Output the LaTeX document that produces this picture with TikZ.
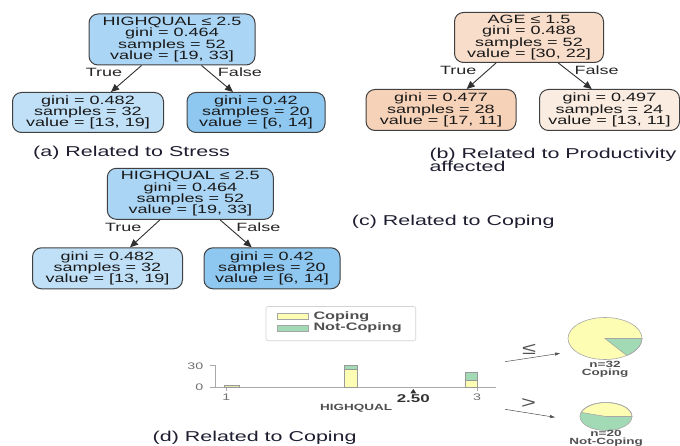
\documentclass[tikz,border=0pt]{standalone}
\usepackage{fontspec}
\setmainfont{Liberation Sans}
\newfontfamily\wf[FakeStretch=1.5]{Liberation Sans}
\usetikzlibrary{arrows.meta}
\definecolor{bluea}{HTML}{ABD5F4}
\definecolor{blueb}{HTML}{C0E0F7}
\definecolor{bluec}{HTML}{8EC7F0}
\definecolor{orga}{HTML}{F8DDCA}
\definecolor{orgb}{HTML}{F6D2B9}
\definecolor{orgc}{HTML}{FBECE1}
\definecolor{boxline}{HTML}{404040}
\definecolor{arrowc}{HTML}{303030}
\definecolor{captcol}{HTML}{1E1E30}
\definecolor{ycol}{HTML}{FDFDB3}
\definecolor{gcol}{HTML}{A1DAB4}
\definecolor{axc}{HTML}{A8A8A8}
\definecolor{tickc}{HTML}{707070}
\definecolor{chartc}{HTML}{505050}
\begin{document}
\begin{tikzpicture}[x=1pt,y=-1pt,
  tbox/.style={draw=boxline, line width=1pt, rounded corners=9pt, inner sep=0pt,
    align=center, font=\wf\fontsize{12}{11.3}\selectfont, text=black!90},
  arr/.style={-{Triangle[length=8pt,width=7pt]}, line width=0.9pt, draw=arrowc},
  edgelab/.style={font=\wf\fontsize{12}{12}\selectfont, text=black!85, inner sep=0pt},
  captxt/.style={font=\wf\fontsize{14.3}{13.4}\selectfont, text=captcol, anchor=west, inner sep=0pt, align=left},
  legtxt/.style={font=\wf\bfseries\fontsize{10.8}{11}\selectfont, text=chartc, anchor=west, inner sep=0pt},
  ticktxt/.style={font=\wf\fontsize{9.5}{10}\selectfont, text=tickc, inner sep=0pt},
  pietxt/.style={font=\wf\bfseries\fontsize{9}{8.2}\selectfont, text=chartc, inner sep=0pt, align=center},
  pieline/.style={draw=axc, line width=0.6pt},
  piearr/.style={-{Triangle[length=5pt,width=3pt]}, draw=chartc, line width=0.5pt},
  bar/.style={draw=gray!80, line width=0.5pt}
]
\useasboundingbox (0,0) rectangle (680,446);

% ---------- (a) ----------
\node[tbox, fill=bluea, minimum width=166pt, minimum height=51pt] (a0) at (172,39.5)
  {HIGHQUAL ≤ 2.5\\gini = 0.464\\samples = 52\\value = [19, 33]};
\node[tbox, fill=blueb, minimum width=151pt, minimum height=40pt] (a1) at (88,112.5)
  {gini = 0.482\\samples = 32\\value = [13, 19]};
\node[tbox, fill=bluec, minimum width=138pt, minimum height=40pt] (a2) at (256,112.5)
  {gini = 0.42\\samples = 20\\value = [6, 14]};
\draw[arr] ([xshift=-30.5pt]a0.south) -- ([xshift=23pt]a1.north);
\draw[arr] ([xshift=29.5pt]a0.south) -- ([xshift=-23pt]a2.north);
\node[edgelab] (a0t) at (104,72.5) {True};
\node[edgelab] (a0f) at (240,72.5) {False};
\node[captxt] (capa) at (33,153.3) {(a) Related to Stress};

% ---------- (b) ----------
\node[tbox, fill=orga, minimum width=149pt, minimum height=50pt] (b0) at (529,37.5)
  {AGE ≤ 1.5\\gini = 0.488\\samples = 52\\value = [30, 22]};
\node[tbox, fill=orgb, minimum width=150pt, minimum height=41pt] (b1) at (441,110)
  {gini = 0.477\\samples = 28\\value = [17, 11]};
\node[tbox, fill=orgc, minimum width=140pt, minimum height=41pt] (b2) at (609.5,110)
  {gini = 0.497\\samples = 24\\value = [13, 11]};
\draw[arr] ([xshift=-33pt]b0.south) -- ([xshift=25.7pt]b1.north);
\draw[arr] ([xshift=29.3pt]b0.south) -- ([xshift=-17.8pt]b2.north);
\node[edgelab] (b0t) at (458.3,70) {True};
\node[edgelab] (b0f) at (596.7,70) {False};
\node[captxt] (capb) at (429.3,160) {(b) Related to Productivity\\affected};

% ---------- (c) ----------
\node[tbox, fill=bluea, minimum width=166pt, minimum height=51pt] (c0) at (190.3,193.8)
  {HIGHQUAL ≤ 2.5\\gini = 0.464\\samples = 52\\value = [19, 33]};
\node[tbox, fill=blueb, minimum width=150pt, minimum height=41pt] (c1) at (107.5,268.3)
  {gini = 0.482\\samples = 32\\value = [13, 19]};
\node[tbox, fill=bluec, minimum width=136pt, minimum height=41pt] (c2) at (272,268.3)
  {gini = 0.42\\samples = 20\\value = [6, 14]};
\draw[arr] ([xshift=-30.3pt]c0.south) -- ([xshift=22.5pt]c1.north);
\draw[arr] ([xshift=29.7pt]c0.south) -- ([xshift=-20.3pt]c2.north);
\node[edgelab] (c0t) at (123.3,227.7) {True};
\node[edgelab] (c0f) at (258.3,227.7) {False};
\node[captxt] (capcc) at (351.7,222.3) {(c) Related to Coping};

% ---------- (d) ----------
% legend
\draw[draw=gray!35, line width=0.6pt, rounded corners=2pt] (266,306.5) rectangle (415.7,340.7);
\filldraw[fill=ycol, draw=gray!70, line width=0.4pt] (277,313.3) rectangle (307.7,319.3);
\filldraw[fill=gcol, draw=gray!70, line width=0.4pt] (277,325) rectangle (307.7,331);
\node[legtxt] (lc) at (313.3,316.5) {Coping};
\node[legtxt] (ln) at (313.3,328.2) {Not-Coping};

% axes
\draw[axc, line width=0.7pt] (215.3,365) -- (215.3,387.7);
\draw[axc, line width=0.7pt] (209.7,365.7) -- (215.3,365.7);
\draw[axc, line width=0.7pt] (209.7,387.7) -- (496,387.7);
\draw[axc, line width=0.7pt] (226.3,387.7) -- (226.3,391);
\draw[axc, line width=0.7pt] (477,387.7) -- (477,391);
\node[ticktxt, anchor=east] (t30) at (203.5,366) {30};
\node[ticktxt, anchor=east] (t0) at (203.5,387.5) {0};
\node[ticktxt] (t1) at (226.3,397.7) {1};
\node[ticktxt] (t3) at (477,396.9) {3};

% bars
\filldraw[bar, fill=ycol!70!olive!60] (224.7,385) rectangle (239.3,387.7);
\filldraw[bar, fill=ycol] (344,369.3) rectangle (357.3,387.7);
\filldraw[bar, fill=gcol] (344,365) rectangle (357.3,369.3);
\filldraw[bar, fill=ycol] (465,380.7) rectangle (477.3,387.7);
\filldraw[bar, fill=gcol] (465,372.7) rectangle (477.3,380.7);

% split marker
\fill[black!80] (410.3,393.3) -- (416.3,393.3) -- (413.3,389) -- cycle;
\node[font=\wf\bfseries\fontsize{11.3}{12}\selectfont, text=black!80, inner sep=0pt] (sv) at (413.3,398.6) {2.50};
\node[font=\wf\bfseries\fontsize{9}{10}\selectfont, text=chartc, inner sep=0pt] (xl) at (356,408.3) {HIGHQUAL};

% pies
\coordinate (pc1) at (605,338.5);
\fill[ycol] (pc1) ellipse [x radius=37pt, y radius=21pt];
\filldraw[fill=gcol, pieline] (pc1) -- ++(37pt,0pt) arc[start angle=0, end angle=-54, x radius=37pt, y radius=21pt] -- cycle;
\draw[pieline] (pc1) ellipse [x radius=37pt, y radius=21pt];
\node[pietxt] (pt1) at (605,369.2) {n=32\\Coping};

\coordinate (pc2) at (606,416.5);
\fill[gcol] (pc2) ellipse [x radius=26pt, y radius=14pt];
\filldraw[fill=ycol, pieline] (pc2) -- ++(26pt,0pt) arc[start angle=0, end angle=163, x radius=26pt, y radius=14pt] -- cycle;
\draw[pieline] (pc2) ellipse [x radius=26pt, y radius=14pt];
\node[pietxt] (pt2) at (606,438.3) {n=20\\Not-Coping};

% split arrows
\coordinate (s1) at (505,361.7);
\coordinate (e1) at (560,353.3);
\coordinate (s2) at (505,409.3);
\coordinate (e2) at (555,417.3);
\draw[piearr] (s1) -- (e1);
\draw[piearr] (s2) -- (e2);
\node[font=\wf\fontsize{17}{17}\selectfont, text=chartc, inner sep=0pt] (le) at (529,349) {≤};
\node[font=\wf\fontsize{17}{17}\selectfont, text=chartc, inner sep=0pt] (gt) at (528.5,403.3) {>};

\node[captxt] (capd) at (152.5,438) {(d) Related to Coping};
\end{tikzpicture}
\end{document}
